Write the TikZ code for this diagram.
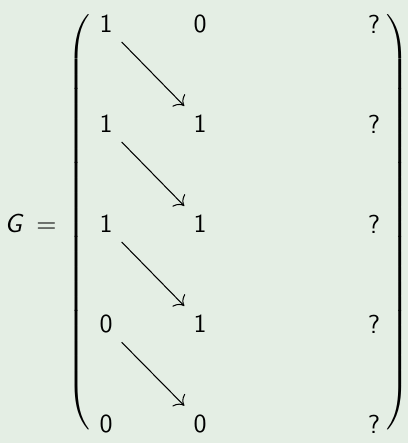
\documentclass[tikz,border=0pt]{standalone}
\usepackage{tikz}
\usepackage{graphicx}
\usetikzlibrary{arrows.meta,positioning,calc}
\definecolor{bgtint}{RGB}{228,238,228}

\begin{document}
\begin{tikzpicture}[x=0.385pt,y=-0.385pt,
    entry/.style={font=\sffamily},
    shiftarrow/.style={-{To[scale=1.3]},thin}]
    % Background and frame
    \fill[bgtint] (0,0) rectangle (408,443);
    \useasboundingbox (0,0) rectangle (408,443);
    % Left-hand side
    \node[anchor=east,inner sep=0pt] (lhs) at (57,223) {$\textsf{\itshape G}\mkern5mu=$};
    % Delimiters
    \node[inner sep=0pt,anchor=west] (lparen) at (67,224)
      {\scalebox{1}[0.95]{$\left(\vrule height 83pt depth 83pt width 0pt\right.\kern-\nulldelimiterspace$}};
    \node[inner sep=0pt,anchor=east] (rparen) at (410,224)
      {\scalebox{1}[0.95]{$\kern-\nulldelimiterspace\left.\vrule height 83pt depth 83pt width 0pt\right)$}};
    % Matrix entries
    \foreach \r/\a/\b in {1/1/0, 2/1/1, 3/1/1, 4/0/1, 5/0/0} {
      \node[entry] (a\r) at (106,{24+100*(\r-1)}) {\a};
      \node[entry] (b\r) at (200,{24+100*(\r-1)}) {\b};
      \node[entry] (q\r) at (374,{24+100*(\r-1)}) {?};
    }
    % Diagonal shifts
    \foreach \r [evaluate=\r as \s using int(\r+1)] in {1,2,3,4} {
      \draw[shiftarrow] (a\r.south east) -- (b\s.north west);
    }
  \end{tikzpicture}
\end{document}
